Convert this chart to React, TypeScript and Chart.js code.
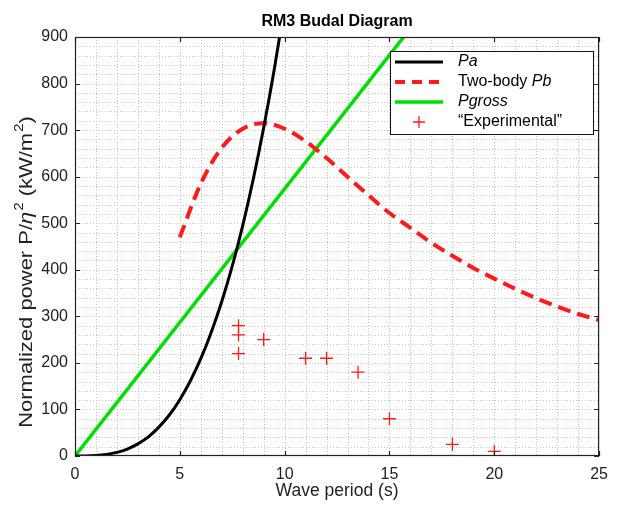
import React, { useEffect, useRef } from "react";
import { Chart, registerables } from "chart.js";

Chart.register(...registerables);

const title = "RM3 Budal Diagram";
const xTitle = "Wave period (s)";

// Pa (black)
const paT = [0, 0.5, 1, 1.5, 2, 2.5, 3, 3.5, 4, 4.5, 5, 5.5, 6, 6.5, 7, 7.5, 8, 8.5, 9, 9.5, 10];
const paP = [0, 0.1, 1, 3.3, 7.7, 15, 26, 41, 62, 88, 121, 161, 209, 266, 332, 408, 495, 594, 705, 829, 967];

// Two-body Pb (red dashed)
const pbT = [5, 6, 7, 8, 9, 10, 11, 12, 13, 14, 15, 16, 17, 18, 19, 20, 21, 22, 23, 24, 25];
const pbP = [470, 585, 662, 703, 715, 703, 676, 640, 600, 560, 522, 490, 458, 430, 404, 381, 359, 339, 321, 305, 292];

// Pgross (green)
const pgT = [0, 25];
const pgP = [0, 1435];

// Experimental (red +)
const expT = [7.8, 7.8, 7.8, 9, 11, 12, 13.5, 15, 18, 20];
const expP = [280, 260, 220, 250, 210, 210, 180, 80, 25, 10];

const xTicks = [0, 5, 10, 15, 20, 25];
const yTicks = [0, 100, 200, 300, 400, 500, 600, 700, 800, 900];
const X_MINOR = 1;
const Y_MINOR = 20;

const FONT = "'Liberation Sans', Arial, Helvetica, sans-serif";
const RED = "#ff1a1a";
const GREEN = "#00e000";

const toPts = (xs: number[], ys: number[]) => xs.map((x, i) => ({ x, y: ys[i] }));

const gridPlugin = {
  id: "dotgrid",
  beforeDatasetsDraw(chart: any) {
    const ctx = chart.ctx as CanvasRenderingContext2D;
    const { left, right, top, bottom } = chart.chartArea;
    const xs = chart.scales.x;
    const ys = chart.scales.y;
    ctx.save();
    ctx.strokeStyle = "#c2c2c2";
    ctx.lineWidth = 1;
    ctx.setLineDash([1, 2]);
    ctx.beginPath();
    for (let v = xs.min + X_MINOR; v < xs.max; v += X_MINOR) {
      const px = Math.round(xs.getPixelForValue(v)) + 0.5;
      ctx.moveTo(px, top);
      ctx.lineTo(px, bottom);
    }
    for (let v = ys.min + Y_MINOR; v < ys.max; v += Y_MINOR) {
      const py = Math.round(ys.getPixelForValue(v)) + 0.5;
      ctx.moveTo(left, py);
      ctx.lineTo(right, py);
    }
    ctx.stroke();
    ctx.restore();
  },
};

const decor = {
  id: "decor",
  afterDraw(chart: any) {
    const ctx = chart.ctx as CanvasRenderingContext2D;
    const { left, right, top, bottom } = chart.chartArea;
    const xs = chart.scales.x;
    const ys = chart.scales.y;
    ctx.save();
    // box
    ctx.strokeStyle = "#222";
    ctx.lineWidth = 1.2;
    ctx.strokeRect(left + 0.5, top + 0.5, right - left - 1, bottom - top - 1);
    // inward ticks
    ctx.beginPath();
    xTicks.forEach((v) => {
      const px = Math.round(xs.getPixelForValue(v)) + 0.5;
      ctx.moveTo(px, bottom);
      ctx.lineTo(px, bottom - 5);
      ctx.moveTo(px, top);
      ctx.lineTo(px, top + 5);
    });
    yTicks.forEach((v) => {
      const py = Math.round(ys.getPixelForValue(v)) + 0.5;
      ctx.moveTo(left, py);
      ctx.lineTo(left + 5, py);
      ctx.moveTo(right, py);
      ctx.lineTo(right - 5, py);
    });
    ctx.stroke();

    // title
    ctx.fillStyle = "#000";
    ctx.font = `bold 16px ${FONT}`;
    ctx.textAlign = "center";
    ctx.textBaseline = "middle";
    ctx.fillText(title, (left + right) / 2, 22);

    // x title
    ctx.font = `17.5px ${FONT}`;
    ctx.fillStyle = "#222";
    ctx.fillText(xTitle, (left + right) / 2, 491);

    // y title with superscripts
    const parts: [string, string][] = [
      ["Normalized power P/", "n"],
      ["\u03B7", "i"],
      ["2", "s"],
      [" (kW/m", "n"],
      ["2", "s"],
      [")", "n"],
    ];
    const fs = 18;
    const fsSup = 12;
    const fontFor = (k: string) =>
      k === "s" ? `${fsSup}px ${FONT}` : k === "i" ? `italic ${fs}px ${FONT}` : `${fs}px ${FONT}`;
    let total = 0;
    parts.forEach(([t, k]) => {
      ctx.font = fontFor(k);
      total += ctx.measureText(t).width + (k === "s" ? 1 : 0);
    });
    const stretch = 1.22;
    ctx.translate(32, 272);
    ctx.rotate(-Math.PI / 2);
    ctx.scale(stretch, 1);
    ctx.textAlign = "left";
    ctx.textBaseline = "alphabetic";
    let cx = -total / 2;
    parts.forEach(([t, k]) => {
      ctx.font = fontFor(k);
      if (k === "s") cx += 1;
      ctx.fillText(t, cx, k === "s" ? -9 : 0);
      cx += ctx.measureText(t).width;
    });
    ctx.setTransform(1, 0, 0, 1, 0, 0);

    // legend
    const lx = 390, ly = 51, lw = 203, lh = 83;
    ctx.fillStyle = "#fff";
    ctx.fillRect(lx, ly, lw, lh);
    ctx.strokeStyle = "#111";
    ctx.lineWidth = 1;
    ctx.strokeRect(lx + 0.5, ly + 0.5, lw, lh);
    const rows = [62, 82, 102, 122];
    const s0 = 395, s1 = 443, tx = 458;
    ctx.strokeStyle = "#000";
    ctx.lineWidth = 3;
    ctx.setLineDash([]);
    ctx.beginPath(); ctx.moveTo(s0, rows[0]); ctx.lineTo(s1, rows[0]); ctx.stroke();
    ctx.strokeStyle = RED;
    ctx.lineWidth = 4;
    ctx.setLineDash([10, 7]);
    ctx.beginPath(); ctx.moveTo(s0, rows[1]); ctx.lineTo(s1, rows[1]); ctx.stroke();
    ctx.setLineDash([]);
    ctx.strokeStyle = GREEN;
    ctx.lineWidth = 3.5;
    ctx.beginPath(); ctx.moveTo(s0, rows[2]); ctx.lineTo(s1, rows[2]); ctx.stroke();
    ctx.strokeStyle = RED;
    ctx.lineWidth = 1.3;
    ctx.beginPath();
    ctx.moveTo(419 - 6, rows[3]); ctx.lineTo(419 + 6, rows[3]);
    ctx.moveTo(419, rows[3] - 6); ctx.lineTo(419, rows[3] + 6);
    ctx.stroke();

    ctx.fillStyle = "#000";
    ctx.textAlign = "left";
    ctx.textBaseline = "middle";
    const it = `italic 16px ${FONT}`;
    const nr = `16px ${FONT}`;
    ctx.font = it;
    ctx.fillText("Pa", tx, rows[0]);
    ctx.font = nr;
    ctx.fillText("Two-body ", tx, rows[1]);
    const w = ctx.measureText("Two-body ").width;
    ctx.font = it;
    ctx.fillText("Pb", tx + w, rows[1]);
    ctx.fillText("Pgross", tx, rows[2]);
    ctx.font = nr;
    ctx.fillText("\u201CExperimental\u201D", tx, rows[3]);
    ctx.restore();
  },
};

export default function App() {
  const ref = useRef<HTMLCanvasElement | null>(null);
  useEffect(() => {
    if (!ref.current) return;
    const chart = new Chart(ref.current, {
      type: "scatter",
      data: {
        datasets: [
          {
            label: "Pa",
            data: toPts(paT, paP),
            showLine: true,
            borderColor: "#000",
            borderWidth: 3,
            pointRadius: 0,
            cubicInterpolationMode: "monotone",
            clip: 0,
          } as any,
          {
            label: "Two-body Pb",
            data: toPts(pbT, pbP),
            showLine: true,
            borderColor: RED,
            borderWidth: 4,
            borderDash: [13, 7],
            pointRadius: 0,
            cubicInterpolationMode: "monotone",
            clip: 0,
          } as any,
          {
            label: "Pgross",
            data: toPts(pgT, pgP),
            showLine: true,
            borderColor: GREEN,
            borderWidth: 3.5,
            pointRadius: 0,
            clip: 0,
          } as any,
          {
            label: "Experimental",
            data: toPts(expT, expP),
            showLine: false,
            pointStyle: "cross",
            pointRadius: 6.5,
            pointBorderWidth: 1.3,
            borderColor: RED,
            backgroundColor: RED,
          } as any,
        ],
      },
      options: {
        animation: false,
        responsive: true,
        maintainAspectRatio: false,
        layout: { padding: { left: 0, top: 37, right: 12, bottom: 0 } },
        plugins: {
          legend: { display: false },
          tooltip: { enabled: false },
          title: { display: false },
        },
        scales: {
          x: {
            type: "linear",
            min: 0,
            max: 25,
            afterFit: (s: any) => { s.height = 50; },
            afterBuildTicks: (s: any) => { s.ticks = xTicks.map((v) => ({ value: v })); },
            ticks: {
              autoSkip: false,
              maxRotation: 0,
              padding: 9,
              color: "#222",
              font: { family: FONT, size: 16 },
            },
            grid: { display: false, drawTicks: false },
            border: { display: false },
          },
          y: {
            type: "linear",
            min: 0,
            max: 900,
            afterFit: (s: any) => { s.width = 75; },
            afterBuildTicks: (s: any) => { s.ticks = yTicks.map((v) => ({ value: v })); },
            ticks: {
              autoSkip: false,
              padding: 7,
              color: "#222",
              font: { family: FONT, size: 16 },
            },
            grid: { display: false, drawTicks: false },
            border: { display: false },
          },
        },
      } as any,
      plugins: [gridPlugin, decor],
    });
    return () => chart.destroy();
  }, []);
  return (
    <div style={{ position: "absolute", left: 0, top: 0, width: 617, height: 506, background: "#fff" }}>
      <canvas ref={ref} />
    </div>
  );
}
